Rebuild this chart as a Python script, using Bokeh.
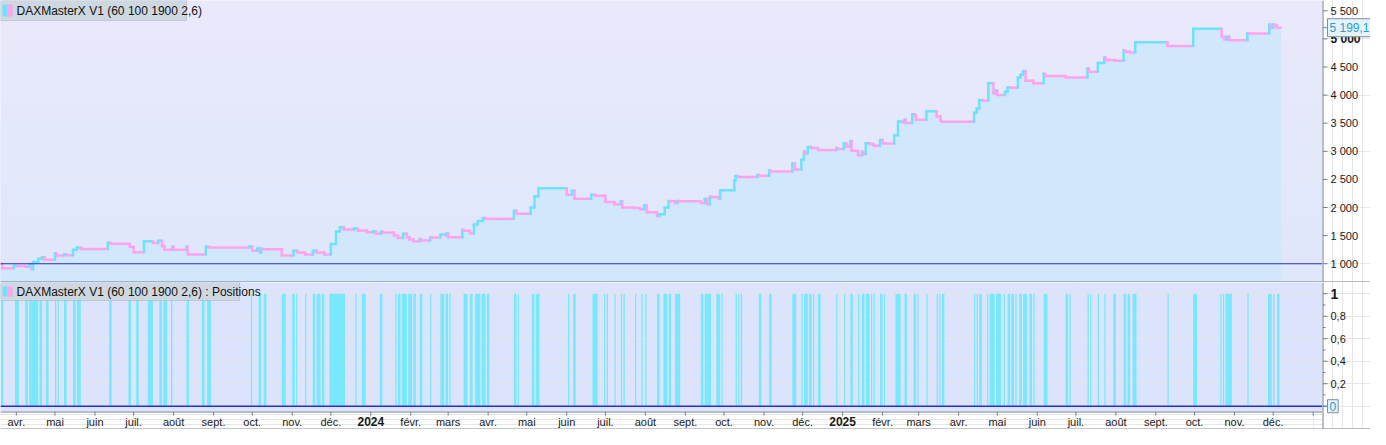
import numpy as np
import pandas as pd
from datetime import datetime
from bokeh.plotting import figure
from bokeh.layouts import column, row
from bokeh.models import Range1d, Span, Label, BoxAnnotation, ColumnDataSource
from bokeh.core.properties import value
from bokeh.embed import file_html
from bokeh.resources import INLINE

# ---------------- data ----------------
strategy_name = "DAXMasterX V1 (60 100 1900 2,6)"
initial_capital = 1000

equity_dates = [
    "2023-03-19", "2023-03-21", "2023-03-30", "2023-04-01", "2023-04-08", "2023-04-11", "2023-04-13",
    "2023-04-14", "2023-04-18", "2023-04-21", "2023-04-23", "2023-05-01", "2023-05-02", "2023-05-08",
    "2023-05-10", "2023-05-15", "2023-05-18", "2023-05-21", "2023-05-22", "2023-06-11", "2023-06-13",
    "2023-06-28", "2023-07-01", "2023-07-09", "2023-07-16", "2023-07-20", "2023-07-23", "2023-07-25",
    "2023-07-31", "2023-08-01", "2023-08-11", "2023-08-12", "2023-08-26", "2023-08-28", "2023-09-29",
    "2023-10-01", "2023-10-05", "2023-10-07", "2023-10-08", "2023-10-09", "2023-10-24", "2023-11-02",
    "2023-11-05", "2023-11-11", "2023-11-17", "2023-11-20", "2023-11-26", "2023-12-01", "2023-12-05",
    "2023-12-08", "2023-12-11", "2023-12-19", "2023-12-22", "2023-12-29", "2024-01-03", "2024-01-05",
    "2024-01-09", "2024-01-10", "2024-01-19", "2024-01-22", "2024-01-26", "2024-01-29", "2024-01-31",
    "2024-02-03", "2024-02-08", "2024-02-09", "2024-02-16", "2024-02-17", "2024-02-24", "2024-02-28",
    "2024-02-29", "2024-03-01", "2024-03-12", "2024-03-13", "2024-03-18", "2024-03-21", "2024-03-24",
    "2024-03-28", "2024-03-30", "2024-04-21", "2024-04-23", "2024-05-04", "2024-05-07", "2024-05-10",
    "2024-06-01", "2024-06-05", "2024-06-07", "2024-06-20", "2024-06-23", "2024-07-01", "2024-07-08",
    "2024-07-13", "2024-07-14", "2024-07-23", "2024-07-28", "2024-07-31", "2024-08-02", "2024-08-10",
    "2024-08-12", "2024-08-16", "2024-08-19", "2024-08-20", "2024-08-24", "2024-08-26", "2024-08-27",
    "2024-09-13", "2024-09-16", "2024-09-18", "2024-09-20", "2024-09-21", "2024-09-27", "2024-09-28",
    "2024-10-09", "2024-10-10", "2024-10-12", "2024-10-27", "2024-10-28", "2024-11-05", "2024-11-06",
    "2024-11-23", "2024-11-25", "2024-11-30", "2024-12-02", "2024-12-03", "2024-12-05", "2024-12-08",
    "2024-12-13", "2024-12-27", "2024-12-28", "2025-01-02", "2025-01-04", "2025-01-07", "2025-01-08",
    "2025-01-13", "2025-01-16", "2025-01-17", "2025-01-19", "2025-01-22", "2025-01-25", "2025-01-30",
    "2025-02-01", "2025-02-10", "2025-02-13", "2025-02-17", "2025-02-18", "2025-02-19", "2025-02-24",
    "2025-02-26", "2025-02-27", "2025-03-07", "2025-03-15", "2025-03-18", "2025-03-19", "2025-04-13",
    "2025-04-15", "2025-04-17", "2025-04-20", "2025-04-24", "2025-04-28", "2025-04-30", "2025-05-01",
    "2025-05-07", "2025-05-09", "2025-05-11", "2025-05-17", "2025-05-19", "2025-05-21", "2025-05-23",
    "2025-05-29", "2025-06-06", "2025-06-07", "2025-06-23", "2025-07-10", "2025-07-11", "2025-07-18",
    "2025-07-23", "2025-07-24", "2025-07-31", "2025-08-07", "2025-08-08", "2025-08-12", "2025-08-16",
    "2025-09-10", "2025-09-30", "2025-10-22", "2025-10-24", "2025-10-26", "2025-10-28", "2025-11-11",
    "2025-11-12", "2025-11-28", "2025-11-29", "2025-12-01", "2025-12-02", "2025-12-04", "2025-12-07",
]
equity_values = [
    1000, 918, 965, 958, 945, 985, 900,
    1030, 1090, 1116, 1072, 1185, 1145, 1170,
    1150, 1250, 1290, 1270, 1260, 1373, 1356,
    1300, 1202, 1402, 1370, 1410, 1310, 1250,
    1300, 1248, 1300, 1163, 1300, 1288, 1310,
    1231, 1270, 1200, 1265, 1258, 1145, 1230,
    1200, 1163, 1230, 1200, 1163, 1351, 1573,
    1650, 1610, 1625, 1590, 1560, 1580, 1534,
    1575, 1556, 1500, 1459, 1534, 1470, 1430,
    1402, 1440, 1414, 1470, 1465, 1520, 1505,
    1540, 1470, 1603, 1585, 1540, 1700, 1760,
    1815, 1801, 1944, 1887, 2000, 2200, 2344,
    2229, 2300, 2156, 2229, 2210, 2099, 2060,
    2110, 2001, 1990, 1970, 2040, 1916, 1850,
    1880, 2000, 2116, 2110, 2080, 2116, 2110,
    2080, 2150, 2060, 2190, 2185, 2160, 2305,
    2486, 2560, 2544, 2580, 2565, 2657, 2640,
    2784, 2675, 2850, 3000, 2960, 3075, 3058,
    3023, 3058, 3040, 3143, 3085, 3183, 3011,
    2931, 2990, 2950, 3143, 3130, 3097, 3200,
    3137, 3285, 3530, 3515, 3560, 3502, 3660,
    3637, 3560, 3714, 3620, 3540, 3525, 3685,
    3760, 3914, 3900, 4210, 4027, 4080, 4000,
    4060, 4141, 4130, 4313, 4360, 4427, 4256,
    4210, 4381, 4342, 4313, 4472, 4415, 4569,
    4667, 4626, 4610, 4797, 4770, 4760, 4941,
    4873, 5181, 5040, 4990, 5040, 4975, 5100,
    5095, 5254, 5200, 5254, 5240, 5199.1, 5199.1,
]

position_open = [
    "2023-03-20", "2023-03-31", "2023-04-08", "2023-04-11", "2023-04-19", "2023-04-24", "2023-05-01",
    "2023-05-03", "2023-05-08", "2023-05-15", "2023-05-18", "2023-06-12", "2023-06-27", "2023-07-03",
    "2023-07-12", "2023-07-21", "2023-07-24", "2023-07-30", "2023-08-11", "2023-08-23", "2023-08-27",
    "2023-09-30", "2023-10-06", "2023-10-10", "2023-10-24", "2023-11-01", "2023-11-04", "2023-11-11",
    "2023-11-17", "2023-11-20", "2023-11-24", "2023-11-30", "2023-12-20", "2023-12-25", "2024-01-08",
    "2024-01-20", "2024-01-22", "2024-01-25", "2024-01-30", "2024-02-03", "2024-02-08", "2024-02-16",
    "2024-02-24", "2024-02-28", "2024-03-02", "2024-03-13", "2024-03-18", "2024-03-22", "2024-03-27",
    "2024-03-31", "2024-04-21", "2024-04-24", "2024-05-05", "2024-05-08", "2024-06-02", "2024-06-06",
    "2024-06-21", "2024-06-30", "2024-07-02", "2024-07-08", "2024-07-13", "2024-07-15", "2024-07-24",
    "2024-07-29", "2024-08-01", "2024-08-10", "2024-08-15", "2024-08-19", "2024-08-24", "2024-09-13",
    "2024-09-16", "2024-09-25", "2024-09-29", "2024-10-10", "2024-10-12", "2024-10-14", "2024-10-28",
    "2024-11-05", "2024-11-23", "2024-11-30", "2024-12-02", "2024-12-06", "2024-12-09", "2024-12-13",
    "2024-12-27", "2025-01-02", "2025-01-07", "2025-01-13", "2025-01-16", "2025-01-19", "2025-01-23",
    "2025-01-25", "2025-01-30", "2025-02-02", "2025-02-11", "2025-02-18", "2025-02-25", "2025-02-28",
    "2025-03-07", "2025-03-15", "2025-03-17", "2025-03-19", "2025-04-13", "2025-04-15", "2025-04-17",
    "2025-04-23", "2025-04-25", "2025-04-30", "2025-05-06", "2025-05-09", "2025-05-12", "2025-05-15",
    "2025-05-18", "2025-05-21", "2025-05-26", "2025-05-29", "2025-06-06", "2025-06-23", "2025-06-26",
    "2025-07-10", "2025-07-12", "2025-07-18", "2025-07-23", "2025-07-30", "2025-08-07", "2025-08-10",
    "2025-08-14", "2025-09-10", "2025-09-30", "2025-10-21", "2025-10-23", "2025-10-25", "2025-11-11",
    "2025-11-27", "2025-12-01", "2025-12-04",
]
position_close = [
    "2023-03-22", "2023-04-03", "2023-04-10", "2023-04-18", "2023-04-21", "2023-04-26", "2023-05-02",
    "2023-05-04", "2023-05-10", "2023-05-17", "2023-05-21", "2023-06-14", "2023-06-29", "2023-07-05",
    "2023-07-16", "2023-07-23", "2023-07-27", "2023-07-31", "2023-08-13", "2023-08-25", "2023-08-30",
    "2023-10-01", "2023-10-08", "2023-10-12", "2023-10-27", "2023-11-03", "2023-11-05", "2023-11-12",
    "2023-11-19", "2023-11-23", "2023-11-26", "2023-12-12", "2023-12-21", "2023-12-28", "2024-01-10",
    "2024-01-21", "2024-01-24", "2024-01-29", "2024-02-02", "2024-02-05", "2024-02-10", "2024-02-17",
    "2024-02-27", "2024-03-01", "2024-03-03", "2024-03-16", "2024-03-20", "2024-03-26", "2024-03-30",
    "2024-04-02", "2024-04-23", "2024-04-25", "2024-05-07", "2024-05-11", "2024-06-03", "2024-06-08",
    "2024-06-25", "2024-07-01", "2024-07-03", "2024-07-09", "2024-07-14", "2024-07-16", "2024-07-25",
    "2024-07-30", "2024-08-02", "2024-08-12", "2024-08-18", "2024-08-21", "2024-08-28", "2024-09-15",
    "2024-09-21", "2024-09-28", "2024-09-30", "2024-10-11", "2024-10-13", "2024-10-15", "2024-10-30",
    "2024-11-07", "2024-11-26", "2024-12-01", "2024-12-05", "2024-12-08", "2024-12-10", "2024-12-15",
    "2024-12-28", "2025-01-03", "2025-01-09", "2025-01-14", "2025-01-18", "2025-01-22", "2025-01-24",
    "2025-01-26", "2025-02-01", "2025-02-03", "2025-02-15", "2025-02-20", "2025-02-27", "2025-03-01",
    "2025-03-08", "2025-03-16", "2025-03-18", "2025-03-21", "2025-04-14", "2025-04-16", "2025-04-19",
    "2025-04-24", "2025-04-29", "2025-05-04", "2025-05-07", "2025-05-11", "2025-05-14", "2025-05-16",
    "2025-05-20", "2025-05-24", "2025-05-28", "2025-05-30", "2025-06-09", "2025-06-25", "2025-06-27",
    "2025-07-11", "2025-07-13", "2025-07-19", "2025-07-24", "2025-08-01", "2025-08-09", "2025-08-12",
    "2025-08-17", "2025-09-11", "2025-10-03", "2025-10-22", "2025-10-24", "2025-10-30", "2025-11-12",
    "2025-11-30", "2025-12-02", "2025-12-06",
]
position_level = 1

equity_ticks = [1000, 1500, 2000, 2500, 3000, 3500, 4000, 4500, 5000, 5500]
equity_bold_tick = 5000
position_ticks = [0, 0.2, 0.4, 0.6, 0.8, 1]
position_minor_ticks = [0.1, 0.3, 0.5, 0.7, 0.9]
month_abbr = ["janv.", "févr.", "mars", "avr.", "mai", "juin",
              "juil.", "août", "sept.", "oct.", "nov.", "déc."]
axis_months = pd.date_range("2023-04-01", "2026-01-01", freq="MS")

# ---------------- style ----------------
CYAN = "#6fe2f9"
PINK = "#ffa2ef"
BAR = "#7ae8fc"
FILL = "#d0e7fc"
BG_TOP_HI = (233, 233, 251)
BG_TOP_LO = (223, 231, 251)
BG_BOT = "#dce4fd"
AXC = "#6f8091"
BLUE = "#2a2ad8"
VALC = "#2b9ec6"
FONT = "Liberation Sans"
TXT = "#1a1a1a"

FRAME_W = 1322
AXIS_W = 48
FH1 = 282
FH2 = 129
FH3 = 18
Y2 = (-0.047, 1.10)

x_range = Range1d(start=datetime(2023, 3, 19, 17, 30), end=datetime(2026, 1, 8, 7, 0))


def fig(**kw):
    p = figure(x_axis_location=None, y_axis_location=None, toolbar_location=None,
               output_backend="svg", min_border=0, **kw)
    p.outline_line_color = None
    p.border_fill_color = "white"
    return p


def fmt_thousands(x):
    return f"{x:,.0f}".replace(",", " ")


def fmt_dec(x):
    return f"{x:.1f}".replace(".", ",")


def sbox(l, r, tp, b, **kw):
    return BoxAnnotation(left=l, right=r, top=tp, bottom=b,
                         left_units="screen", right_units="screen", top_units="screen",
                         bottom_units="screen", fill_alpha=1, **kw)


def legend(p, fh, text, box_w, box_h):
    p.add_layout(sbox(0, box_w, fh, fh - box_h, fill_color="#cdd8e0", line_color="#8696a6", line_width=1))
    p.add_layout(sbox(2, 7, fh - 4, fh - box_h + 4, fill_color=CYAN, line_color=None))
    p.add_layout(sbox(7, 12, fh - 4, fh - box_h + 4, fill_color=PINK, line_color=None))
    p.add_layout(Label(x=16, y=fh - box_h / 2, x_units="screen", y_units="screen", text=text,
                       text_font=FONT, text_font_size="12px", text_baseline="middle", text_color="#111111"))


def value_box(p, y, text):
    p.segment(x0=0, y0=[y], x1=5, y1=[y], line_color=VALC, line_width=1)
    p.add_layout(Label(x=5, y=y, text=text, text_font=FONT, text_font_size="12px",
                       text_baseline="middle", text_color=VALC, background_fill_color="#e4f2f9",
                       border_line_color="#7d8fa0", padding=2))


# ---------------- top panel: equity ----------------
p1 = fig(frame_width=FRAME_W, frame_height=FH1, x_range=x_range, y_range=Range1d(666, 5683))
p1.background_fill_color = "#e4e8fb"
nb = 14
edges = [round(FH1 * k / nb) for k in range(nb + 1)]
for k in range(nb):
    f = (k + 0.5) / nb
    c = tuple(int(round(lo + (hi - lo) * f)) for lo, hi in zip(BG_TOP_LO, BG_TOP_HI))
    band = sbox(0, FRAME_W, edges[k + 1], edges[k], fill_color="#%02x%02x%02x" % c, line_color=None)
    band.level = "underlay"
    p1.add_layout(band)

t = pd.to_datetime(equity_dates)
v = np.array(equity_values, dtype=float)

xs, ys = [], []
for i in range(len(v)):
    if i > 0:
        xs.append(t[i]); ys.append(v[i - 1])
    xs.append(t[i]); ys.append(v[i])
p1.varea(x=xs, y1=p1.y_range.start, y2=ys, fill_color=FILL)

sx0, sy0, sx1, sy1, sc = [], [], [], [], []
for i in range(len(v) - 1):
    up = (i > 0 and v[i] > v[i - 1])
    sx0.append(t[i]); sy0.append(v[i]); sx1.append(t[i + 1]); sy1.append(v[i]); sc.append(CYAN if up else PINK)
    if v[i + 1] != v[i]:
        sx0.append(t[i + 1]); sy0.append(v[i]); sx1.append(t[i + 1]); sy1.append(v[i + 1])
        sc.append(CYAN if v[i + 1] > v[i] else PINK)
seg = ColumnDataSource(dict(x0=sx0, y0=sy0, x1=sx1, y1=sy1, c=sc))
p1.segment(x0="x0", y0="y0", x1="x1", y1="y1", line_color="c", line_width=2.5,
           line_cap="round", source=seg)

p1.add_layout(Span(location=initial_capital, dimension="width", line_color=BLUE, line_width=1.2))
p1.add_layout(Span(location=p1.y_range.start, dimension="width", line_color=AXC, line_width=2))
legend(p1, FH1, strategy_name, 186, 20)

# right axis of the top panel
p1r = fig(frame_width=AXIS_W, frame_height=FH1, x_range=Range1d(0, AXIS_W), y_range=p1.y_range)
p1r.background_fill_color = "white"
p1r.add_layout(Span(location=0, dimension="height", line_color=AXC, line_width=2))
p1r.add_layout(Span(location=p1.y_range.start, dimension="width", line_color=AXC, line_width=2))
p1r.segment(x0=0, y0=equity_ticks, x1=5, y1=equity_ticks, line_color=AXC, line_width=1)
reg = [tk for tk in equity_ticks if tk != equity_bold_tick]
p1r.text(x=8, y=reg, text=[fmt_thousands(tk) for tk in reg], text_font=value(FONT),
         text_font_size="11px", text_baseline="middle", text_align="left", text_color=TXT)
p1r.text(x=8, y=[equity_bold_tick], text=[fmt_thousands(equity_bold_tick)], text_font=value(FONT),
         text_font_size="12px", text_font_style="bold", text_baseline="middle", text_align="left",
         text_color=TXT)
last_val = equity_values[-1]
value_box(p1r, last_val, f"{last_val:,.1f}".replace(",", " ").replace(".", ","))

# ---------------- bottom panel: positions ----------------
p2 = fig(frame_width=FRAME_W, frame_height=FH2, x_range=x_range, y_range=Range1d(*Y2))
p2.background_fill_color = BG_BOT
pos = ColumnDataSource(dict(left=pd.to_datetime(position_open), right=pd.to_datetime(position_close),
                            top=[position_level] * len(position_open)))
p2.quad(left="left", right="right", bottom=0, top="top", fill_color=BAR, line_color=None, source=pos)
p2.add_layout(Span(location=0, dimension="width", line_color=BLUE, line_width=1.5))
legend(p2, FH2, strategy_name + " : Positions", 239, 18)

# right axis of the bottom panel (spans the time-axis row too)
per_px = (Y2[1] - Y2[0]) / FH2
p2r = fig(frame_width=AXIS_W, frame_height=FH2 + FH3, x_range=Range1d(0, AXIS_W),
          y_range=Range1d(Y2[0] - FH3 * per_px, Y2[1]))
p2r.background_fill_color = "white"
p2r.add_layout(Span(location=0, dimension="height", line_color=AXC, line_width=2))
p2r.add_layout(Span(location=Y2[0] - FH3 * per_px, dimension="width", line_color="#8a8f96", line_width=2))
p2r.segment(x0=0, y0=position_ticks, x1=5, y1=position_ticks, line_color=AXC, line_width=1)
p2r.segment(x0=0, y0=position_minor_ticks, x1=3, y1=position_minor_ticks, line_color=AXC, line_width=1)
mid = [tk for tk in position_ticks if 0 < tk < 1]
p2r.text(x=8, y=mid, text=[fmt_dec(tk) for tk in mid], text_font=value(FONT),
         text_font_size="11px", text_baseline="middle", text_align="left", text_color=TXT)
p2r.text(x=8, y=[position_ticks[-1]], text=["1"], text_font=value(FONT), text_font_size="14px",
         text_font_style="bold", text_baseline="middle", text_align="left", text_color=TXT)
value_box(p2r, 0, "0")

# ---------------- time axis ----------------
p3 = fig(frame_width=FRAME_W, frame_height=FH3, x_range=x_range, y_range=Range1d(0, FH3))
p3.background_fill_color = "white"
p3.add_layout(Span(location=FH3, dimension="width", line_color=AXC, line_width=2))
p3.add_layout(Span(location=0, dimension="width", line_color="#8a8f96", line_width=2))
p3.segment(x0=axis_months, y0=FH3, x1=axis_months, y1=FH3 - 4, line_color=AXC, line_width=1)
m_x = [d for d in axis_months if d.month != 1]
m_t = [month_abbr[d.month - 1] for d in m_x]
p3.text(x=m_x, y=8, text=m_t, text_font=value(FONT), text_font_size="11px",
        text_baseline="middle", text_align="center", text_color=TXT)
y_x = [d for d in axis_months if d.month == 1 and d != axis_months[-1]]
p3.text(x=y_x, y=8, text=[str(d.year) for d in y_x], text_font=value(FONT), text_font_size="12px",
        text_font_style="bold", text_baseline="middle", text_align="center", text_color=TXT)

layout = column(row(p1, p1r, spacing=0),
                row(column(p2, p3, spacing=0), p2r, spacing=0),
                spacing=0)
open("out.html", "w").write(file_html(layout, INLINE))
